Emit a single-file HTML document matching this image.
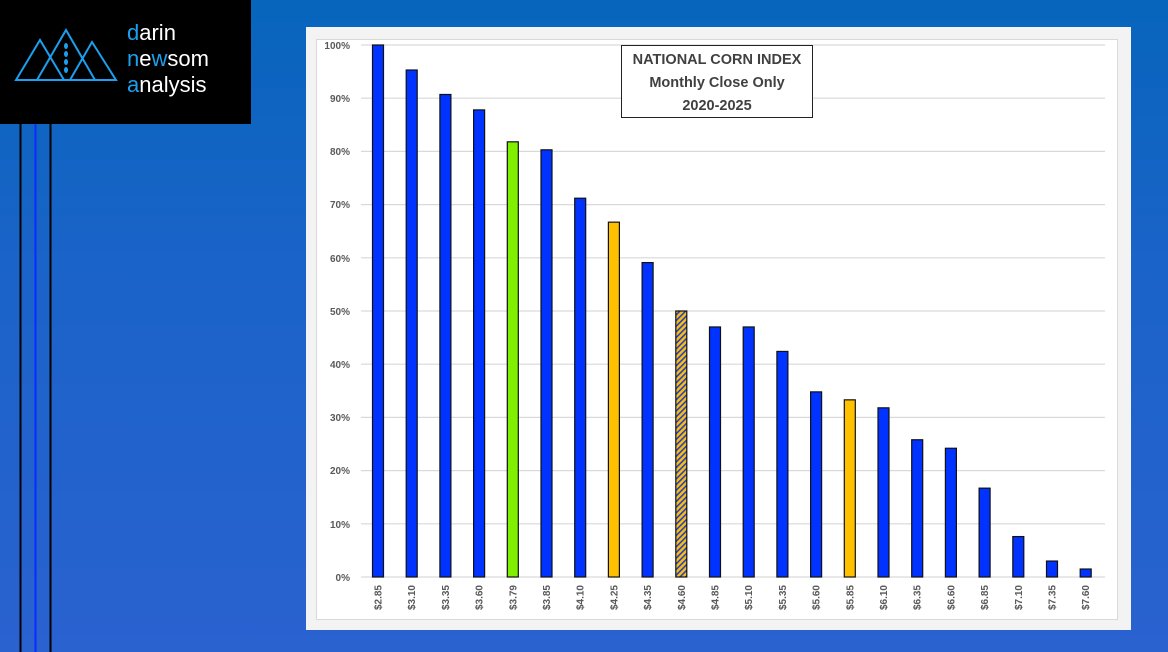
<!DOCTYPE html>
<html><head><style>
html,body{margin:0;padding:0;}
body{width:1168px;height:652px;overflow:hidden;background:linear-gradient(180deg,#0765bc 0%,#1a63c8 40%,#2a62d0 100%);position:relative;font-family:"Liberation Sans",sans-serif;}
</style></head><body>
<svg width="1168" height="652" style="position:absolute;left:0;top:0">
<defs>
<pattern id="h" width="4" height="4" patternUnits="userSpaceOnUse" patternTransform="rotate(45)">
<rect width="4" height="4" fill="#ffc000"/><rect width="1.6" height="4" fill="#1f3fe0"/>
</pattern>
</defs>
<rect x="0" y="0" width="251" height="124" fill="#000"/>
<g stroke="#1aa0ee" stroke-width="2" fill="none">
<polygon points="16,80 40,40 64,80"/>
<polygon points="37,80 66,30 95,80"/>
<polygon points="70,80 92,42 116,80"/>
</g>
<g fill="#1aa0ee"><ellipse cx="66" cy="46" rx="2" ry="3"/><ellipse cx="66" cy="54" rx="2" ry="3"/><ellipse cx="66" cy="62" rx="2" ry="3"/><ellipse cx="66" cy="70" rx="2" ry="3"/></g>
<g font-family="Liberation Sans,sans-serif" font-size="22" fill="#fff">
<text x="127" y="40"><tspan fill="#1aa0ee">d</tspan>arin</text>
<text x="127" y="66"><tspan fill="#1aa0ee">n</tspan>e<tspan fill="#1aa0ee">w</tspan>som</text>
<text x="127" y="92"><tspan fill="#1aa0ee">a</tspan>nalysis</text>
</g>
<rect x="19.5" y="124" width="2" height="528" fill="#000"/>
<rect x="34.5" y="124" width="2" height="528" fill="#0a2bff"/>
<rect x="49.5" y="124" width="2" height="528" fill="#000"/>
<rect x="306" y="27" width="825" height="603" fill="#f3f3f3"/>
<rect x="316.5" y="39.5" width="801" height="580" fill="#fff" stroke="#d9d9d9"/>
<g stroke="#d9d9d9" stroke-width="1.2">
<line x1="361" x2="1105" y1="45" y2="45"/><line x1="361" x2="1105" y1="98.2" y2="98.2"/><line x1="361" x2="1105" y1="151.4" y2="151.4"/><line x1="361" x2="1105" y1="204.6" y2="204.6"/><line x1="361" x2="1105" y1="257.8" y2="257.8"/><line x1="361" x2="1105" y1="311" y2="311"/><line x1="361" x2="1105" y1="364.2" y2="364.2"/><line x1="361" x2="1105" y1="417.4" y2="417.4"/><line x1="361" x2="1105" y1="470.6" y2="470.6"/><line x1="361" x2="1105" y1="523.8" y2="523.8"/><line x1="361" x2="1105" y1="577" y2="577"/>
</g>
<g font-size="10" font-weight="bold" fill="#595959" text-anchor="end">
<text x="350" y="49">100%</text><text x="350" y="102">90%</text><text x="350" y="155">80%</text><text x="350" y="208">70%</text><text x="350" y="262">60%</text><text x="350" y="315">50%</text><text x="350" y="368">40%</text><text x="350" y="421">30%</text><text x="350" y="474">20%</text><text x="350" y="528">10%</text><text x="350" y="581">0%</text>
</g>
<g id="bars" stroke="#111" stroke-width="1.2"></g>
<g id="labels" font-size="10" font-weight="bold" fill="#595959"></g>
<rect x="621.5" y="45.5" width="191" height="72" fill="#fff" stroke="#222" stroke-width="1"/>
<g font-size="14.5" font-weight="bold" fill="#404040" text-anchor="middle">
<text x="717" y="64">NATIONAL CORN INDEX</text>
<text x="717" y="87">Monthly Close Only</text>
<text x="717" y="110">2020-2025</text>
</g>
</svg>
<script>
var v=[100,95.3,90.7,87.8,81.8,80.3,71.2,66.7,59.1,50,47,47,42.4,34.8,33.3,31.8,25.8,24.2,16.7,7.6,3.0,1.5];
var l=["$2.85","$3.10","$3.35","$3.60","$3.79","$3.85","$4.10","$4.25","$4.35","$4.60","$4.85","$5.10","$5.35","$5.60","$5.85","$6.10","$6.35","$6.60","$6.85","$7.10","$7.35","$7.60"];
var b=document.getElementById('bars'),t=document.getElementById('labels'),ns="http://www.w3.org/2000/svg";
for(var i=0;i<22;i++){var cx=378+i*33.7,h=v[i]*5.32;
var r=document.createElementNS(ns,'rect');r.setAttribute('x',cx-5.5);r.setAttribute('y',577-h);r.setAttribute('width',11);r.setAttribute('height',h);
r.setAttribute('fill',i==4?'#7ff000':(i==7||i==14)?'#ffc000':i==9?'url(#h)':'#0033ff');b.appendChild(r);
var x=document.createElementNS(ns,'text');x.setAttribute('transform','translate('+(cx+3.5)+',585) rotate(-90)');x.setAttribute('text-anchor','end');x.textContent=l[i];t.appendChild(x);}
</script>
</body></html>
